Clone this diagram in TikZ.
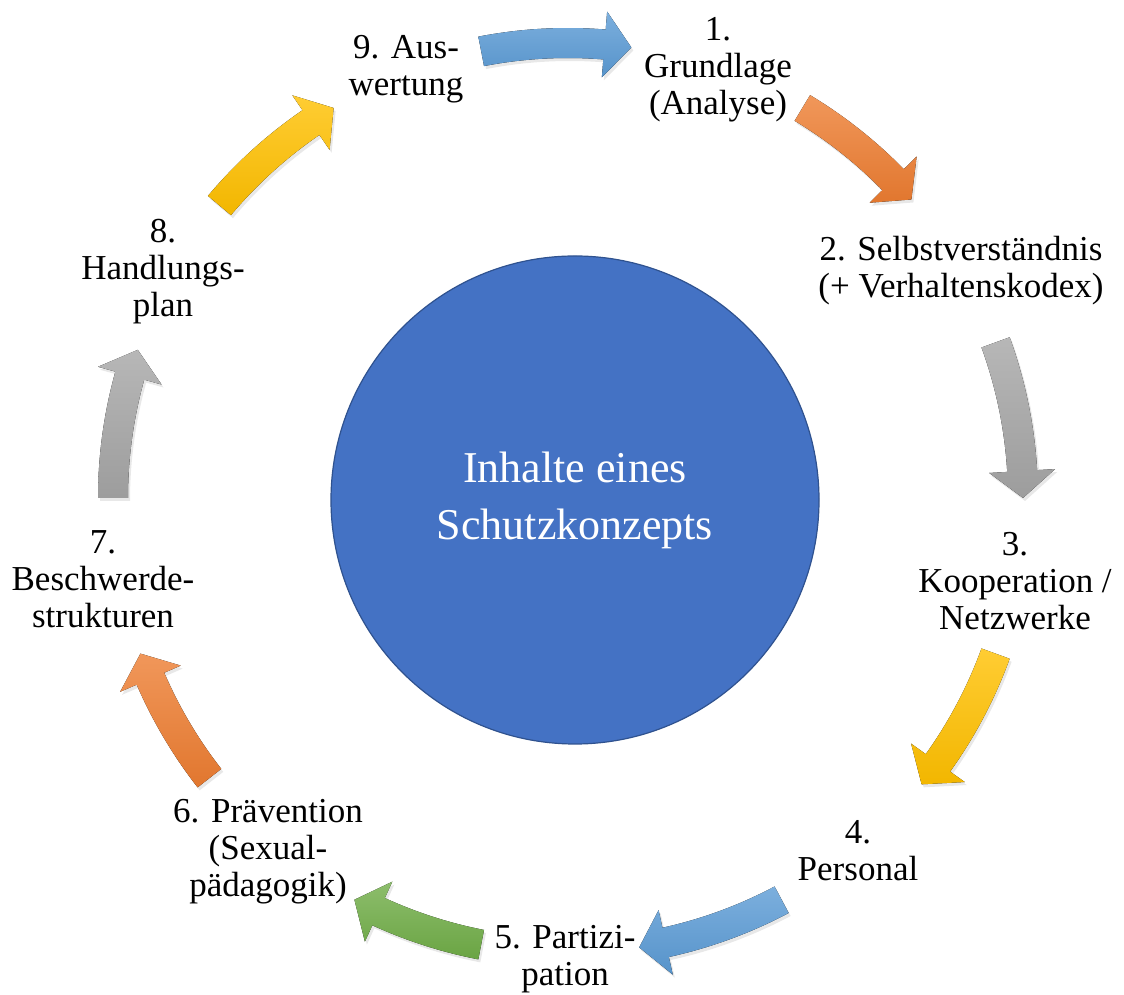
\documentclass[tikz,border=0pt]{standalone}
\usepackage{fontspec}
\setmainfont{Liberation Serif}
\usepackage{xcolor}
\usetikzlibrary{shadows}

\definecolor{cycBlue}{HTML}{5B9BD5}
\definecolor{cycOrange}{HTML}{ED7D31}
\definecolor{cycGray}{HTML}{A5A5A5}
\definecolor{cycYellow}{HTML}{FFC000}
\definecolor{cycGreen}{HTML}{70AD47}
\definecolor{hubFill}{HTML}{4472C4}
\definecolor{hubLine}{HTML}{2F528F}

% curved block arrow: colour, tail angle, tip angle
\newcommand{\cyclearrow}[3]{%
    \pgfmathsetmacro{\headbase}{#3+3.4}
    \fill[top color=#1!80!white, bottom color=#1!95!black,
          drop shadow={opacity=0.18, shadow xshift=2pt, shadow yshift=-3pt}]
        (#2:440pt) arc[start angle=#2, end angle=\headbase, radius=440pt]
        -- (\headbase:422pt) -- (#3:455pt) -- (\headbase:488pt)
        -- (\headbase:470pt) arc[start angle=\headbase, end angle=#2, radius=470pt]
        -- cycle;
}

\begin{document}
\begin{tikzpicture}[x=1pt,y=1pt,
    step label/.style={align=center, font=\fontsize{35}{37}\selectfont},
    hub/.style={circle, draw=hubLine, line width=1.2pt, fill=hubFill,
        minimum size=488pt, inner sep=0pt, align=center, text=white,
        font=\fontsize{44}{57}\selectfont}]
    \useasboundingbox (0,0) rectangle (1124,995);

    \node[hub] (hub) at (575,495) {Inhalte eines\\Schutzkonzepts};

    \node[step label] (s1) at (718,925) {1.\\Grundlage\\(Analyse)};
    \node[step label] (s2) at (961,724) {2. Selbstverständnis\\(+ Verhaltenskodex)};
    \node[step label] (s3) at (1015,414) {3.\\Kooperation /\\Netzwerke};
    \node[step label] (s4) at (858,144) {4.\\Personal};
    \node[step label] (s5) at (565,36) {5. Partizi-\\pation};
    \node[step label] (s6) at (268,143) {6. Prävention\\(Sexual-\\pädagogik)};
    \node[step label] (s7) at (103,416) {7.\\Beschwerde-\\strukturen};
    \node[step label] (s8) at (163,723) {8.\\Handlungs-\\plan};
    \node[step label] (s9) at (406,926) {9. Aus-\\wertung};

    \begin{scope}[shift={(568,497)}]
        \foreach \col/\tail/\tip in {cycBlue/101/82, cycOrange/59/41,
                cycGray/20/0, cycYellow/-20/-39, cycBlue/-62/-81,
                cycGreen/-101/-118, cycOrange/-142/-160,
                cycGray/180/161, cycYellow/140/121}
            {\cyclearrow{\col}{\tail}{\tip}}
    \end{scope}
\end{tikzpicture}
\end{document}
